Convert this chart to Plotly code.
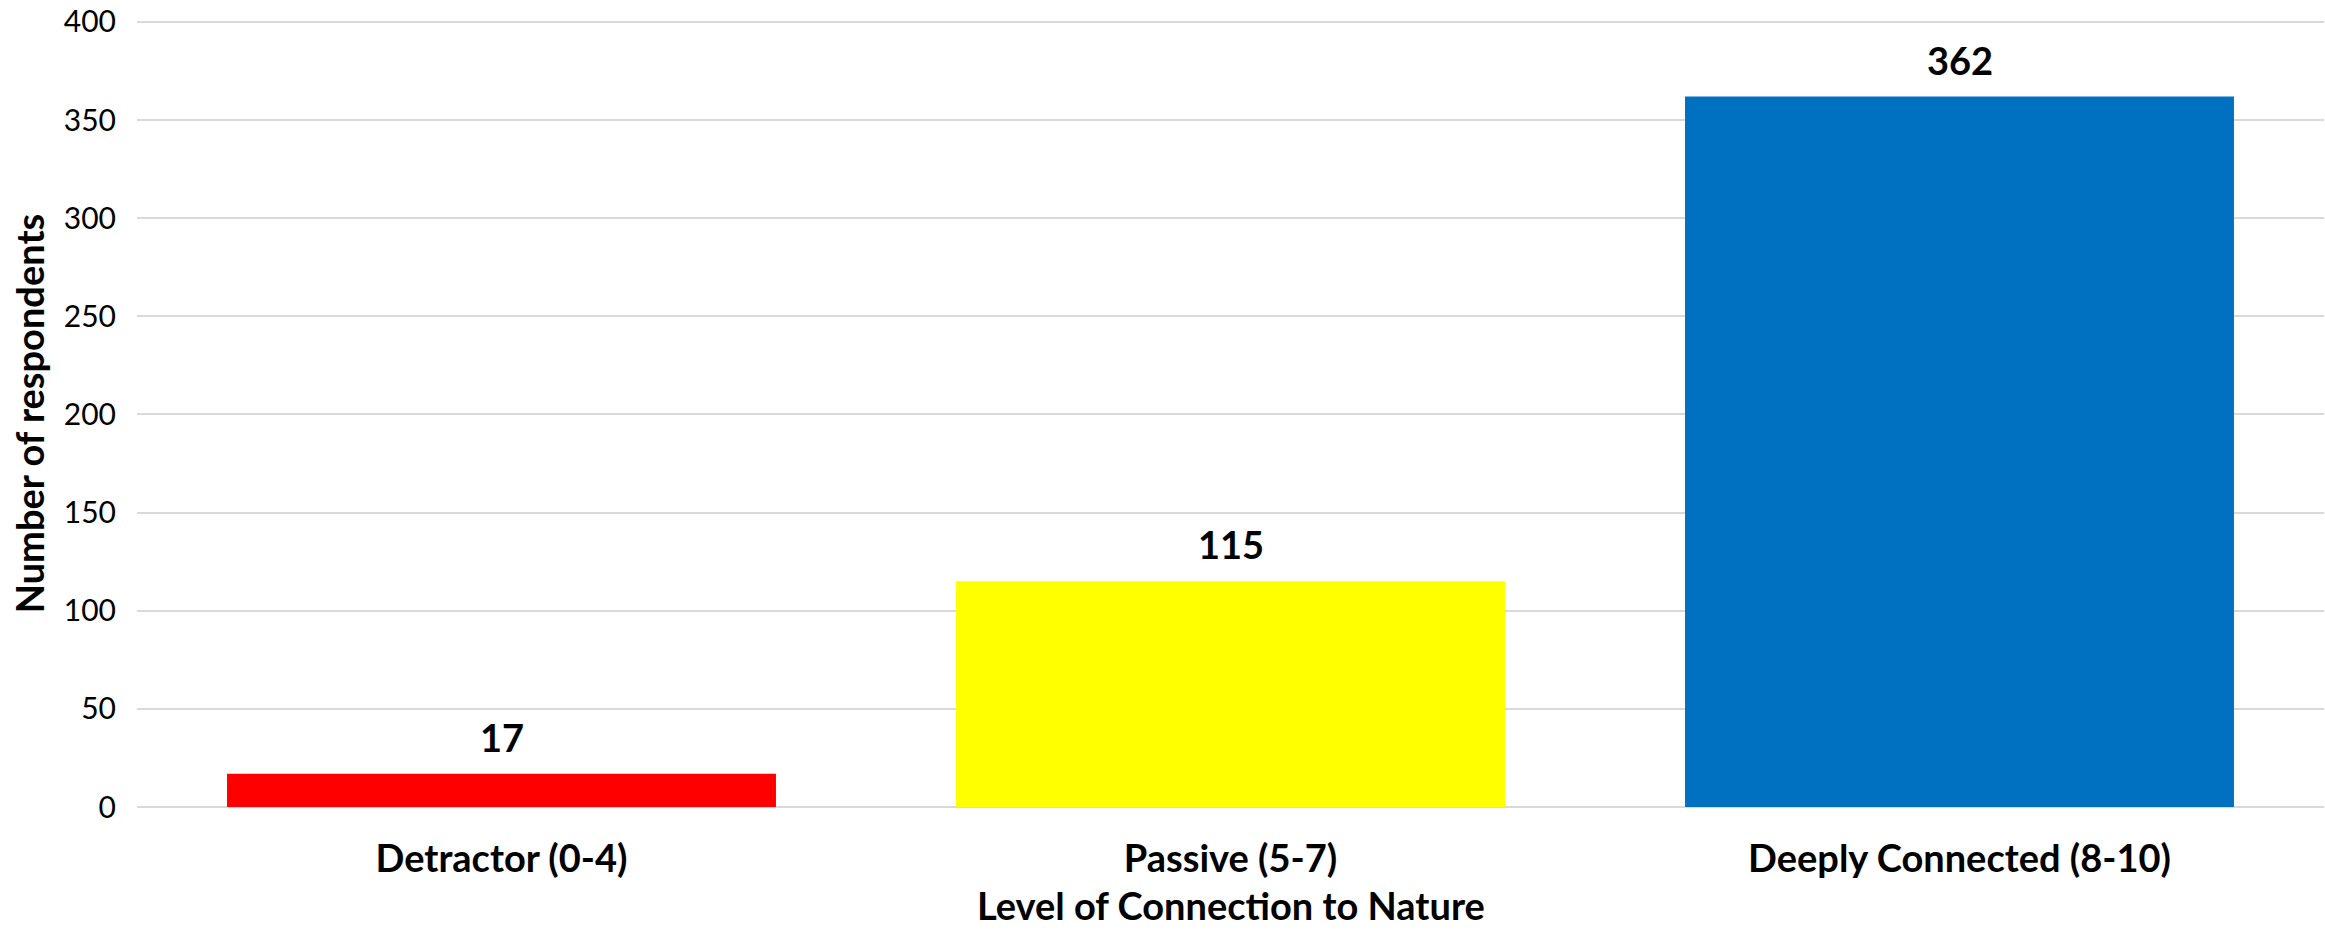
import plotly.graph_objects as go

categories = ["Detractor (0-4)", "Passive (5-7)", "Deeply Connected (8-10)"]
respondents = [17, 115, 362]
bar_colors = ["#ff0000", "#ffff00", "#0070c0"]
y_ticks = [0, 50, 100, 150, 200, 250, 300, 350, 400]

FONT = "Lato, 'Open Sans', sans-serif"

fig = go.Figure()
fig.add_trace(
    go.Bar(
        x=categories,
        y=respondents,
        marker=dict(color=bar_colors, line=dict(width=0)),
        showlegend=False,
    )
)

# value labels above the bars
for cat, val in zip(categories, respondents):
    fig.add_annotation(
        x=cat,
        y=val,
        text=f"<b>{val}</b>",
        showarrow=False,
        yanchor="bottom",
        yshift=12,
        font=dict(family=FONT, size=38, color="black"),
    )

# axis titles as annotations so they can sit right at the page edges
fig.add_annotation(
    text="<b>Level of Connection to Nature</b>",
    xref="paper",
    yref="paper",
    x=0.5,
    y=-0.125,
    xanchor="center",
    yanchor="middle",
    showarrow=False,
    font=dict(family=FONT, size=38, color="black"),
)
fig.add_annotation(
    text="<b>Number of respondents</b>",
    xref="paper",
    yref="paper",
    x=-0.0495,
    y=0.5,
    xanchor="center",
    yanchor="middle",
    textangle=-90,
    showarrow=False,
    font=dict(family=FONT, size=38, color="black"),
)

fig.update_layout(
    width=2325,
    height=931,
    margin=dict(l=137, r=1, t=20, b=124),
    paper_bgcolor="white",
    plot_bgcolor="white",
    bargap=0.247,
    font=dict(family=FONT, color="black"),
    xaxis=dict(
        tickfont=dict(family=FONT, size=38, color="black"),
        tickprefix="<b>",
        ticksuffix="</b>",
        ticks="",
        ticklabelstandoff=26,
        automargin=False,
        showline=False,
        showgrid=False,
    ),
    yaxis=dict(
        range=[0, 401],
        tickvals=y_ticks,
        tickfont=dict(family=FONT, size=30, color="black"),
        ticks="",
        ticklabelstandoff=20,
        ticklabeloverflow="allow",
        automargin=False,
        showgrid=True,
        gridcolor="#d9d9d9",
        gridwidth=1.5,
        zeroline=True,
        zerolinecolor="#d9d9d9",
        zerolinewidth=1.5,
        showline=False,
    ),
)

# drop the default 8px body margin so the figure fills the window exactly
fig.write_html(
    "out.html",
    config={"displayModeBar": False},
    post_script="document.body.style.margin = '0';",
)
